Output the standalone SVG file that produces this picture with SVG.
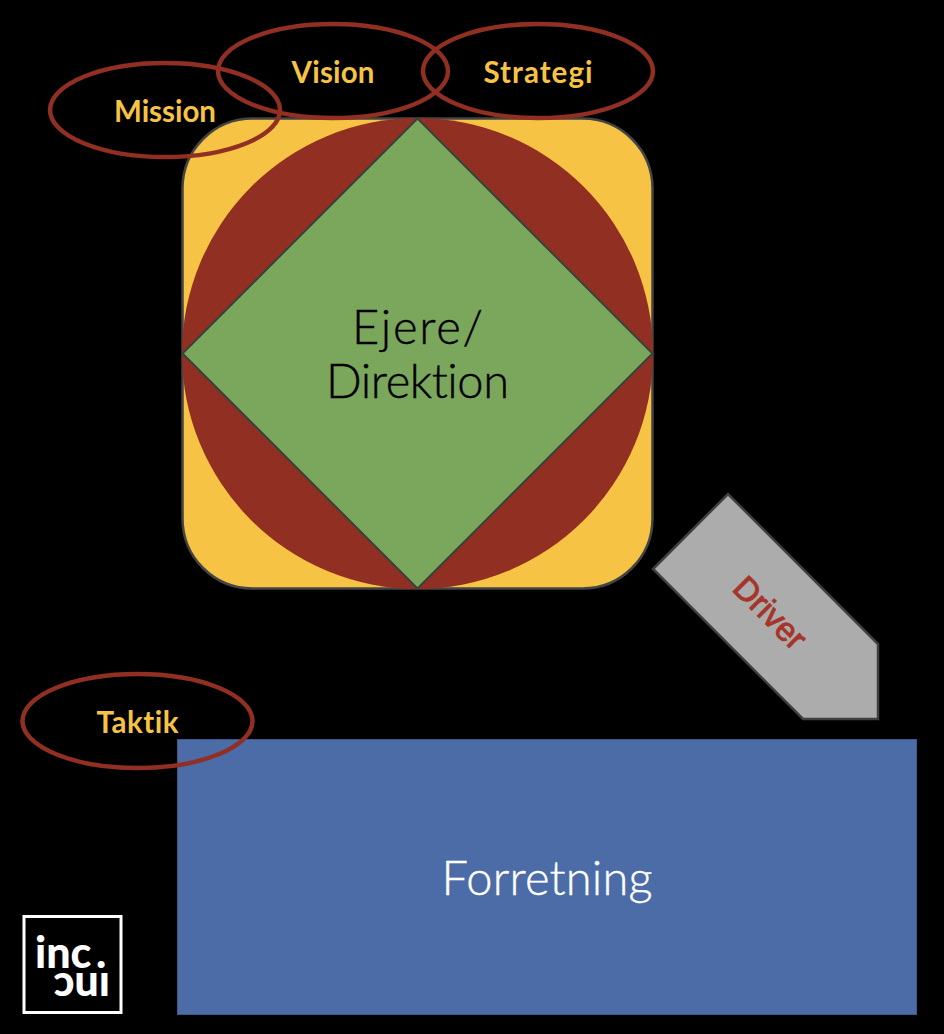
<svg xmlns="http://www.w3.org/2000/svg" width="944" height="1034" viewBox="0 0 944 1034">
<style>
text{font-variant-ligatures:none}
.lbl{font-family:Lato,"Noto Sans",sans-serif;font-size:29.500px;font-weight:700;fill:#f6c344;text-anchor:middle}
.ell{fill:none;stroke:#922f23;stroke-width:4.5}
.big{font-family:Lato,"Noto Sans",sans-serif;font-size:47px;font-weight:300;text-anchor:middle;stroke-width:.4}
.logo{font-family:Lato,"Open Sans",sans-serif;font-size:43px;font-weight:900;fill:#fff}
</style>
<rect width="944" height="1034" fill="#000"/>
<g id="core">
<rect x="182.500" y="118.500" width="470" height="470" rx="70" ry="70" fill="#f6c344" stroke="#444" stroke-width="2.500"/>
<circle cx="417.500" cy="353.500" r="235.500" fill="#922f23"/>
<polygon points="417.500,118.500 652.500,353.500 417.500,588.500 182.500,353.500" fill="#7ba75c" stroke="#37433a" stroke-width="2"/>
<text class="big" x="417.500" y="344" fill="#000" stroke="#000" textLength="131" lengthAdjust="spacing">Ejere/</text>
<text class="big" x="417.500" y="398" fill="#000" stroke="#000" textLength="183" lengthAdjust="spacing">Direktion</text>
</g>
<g id="business">
<rect x="177.500" y="739.500" width="739" height="275" fill="#4b6ca6" stroke="#3f5a8a" stroke-width="1"/>
<text class="big" x="547" y="895" fill="#fff" stroke="#fff" textLength="211" lengthAdjust="spacing">Forretning</text>
</g>
<g id="driver">
<polygon points="653,569 728,494 878,644 878,719 803,719" fill="#acacac" stroke="#3f3f3f" stroke-width="2.500"/>
<text x="770" y="613" transform="rotate(45 770 613)" dy="11" text-anchor="middle" font-family="Liberation Sans,Arial,sans-serif" font-size="33" fill="#a5352a" stroke="#a5352a" stroke-width="1">Driver</text>
</g>
<g id="mission"><ellipse class="ell" cx="165" cy="110" rx="115" ry="47"/><text class="lbl" x="165" y="122" textLength="102" lengthAdjust="spacing">Mission</text></g>
<g id="vision"><ellipse class="ell" cx="333" cy="71" rx="115" ry="47"/><text class="lbl" x="333" y="83" textLength="83" lengthAdjust="spacing">Vision</text></g>
<g id="strategi"><ellipse class="ell" cx="538" cy="71" rx="115" ry="47"/><text class="lbl" x="538" y="83" textLength="109" lengthAdjust="spacing">Strategi</text></g>
<g id="taktik"><ellipse class="ell" cx="137.500" cy="721" rx="115" ry="47"/><text class="lbl" x="137.500" y="733" textLength="82" lengthAdjust="spacing">Taktik</text></g>
<g id="logo">
<rect x="24" y="916.500" width="97" height="96" fill="none" stroke="#fff" stroke-width="3"/>
<text class="logo" x="35" y="968">inc<tspan x="96">.</tspan></text>
<text class="logo" x="35" y="968" transform="rotate(180 72.500 970.500)">ınc</text>
</g>
<g id="connectors"></g>
</svg>
